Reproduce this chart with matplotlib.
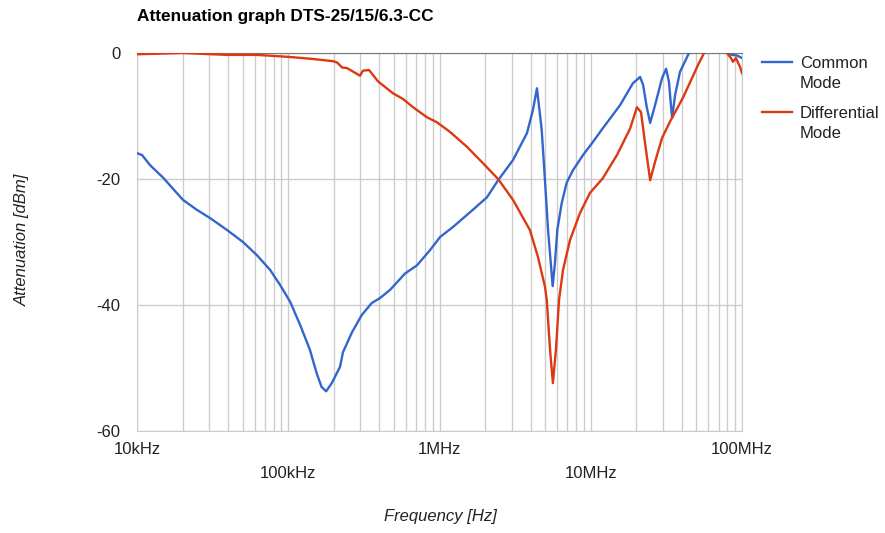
import matplotlib.pyplot as plt
from matplotlib.lines import Line2D
from matplotlib.ticker import LogLocator, NullFormatter
import numpy as np

# Common mode attenuation (Hz, dB)
freq_cm = [1.00e4, 1.08e4, 1.22e4, 1.49e4, 2.01e4, 2.49e4, 3.04e4, 3.94e4, 5.02e4, 6.21e4,
           7.57e4, 8.82e4, 1.03e5, 1.20e5, 1.39e5, 1.54e5, 1.66e5, 1.78e5, 1.94e5, 2.20e5,
           2.30e5, 2.63e5, 3.06e5, 3.56e5, 4.04e5, 4.71e5, 5.92e5, 7.10e5, 8.65e5, 1.01e6,
           1.23e6, 1.66e6, 2.06e6, 2.44e6, 3.06e6, 3.79e6, 4.15e6, 4.41e6, 4.74e6, 4.98e6,
           5.22e6, 5.44e6, 5.60e6, 5.80e6, 6.01e6, 6.43e6, 6.93e6, 7.63e6, 8.89e6, 1.035e7,
           1.18e7, 1.56e7, 1.90e7, 2.12e7, 2.22e7, 2.35e7, 2.47e7, 2.66e7, 2.96e7, 3.15e7,
           3.29e7, 3.39e7, 3.45e7, 3.61e7, 3.89e7, 4.46e7, 5.69e7, 7.16e7, 7.96e7, 8.59e7,
           9.27e7, 1.00e8]
att_cm = [-15.9, -16.2, -17.8, -19.8, -23.3, -24.9, -26.2, -28.1, -30.0, -32.1,
          -34.4, -36.8, -39.5, -43.2, -47.1, -50.8, -53.0, -53.7, -52.4, -49.8,
          -47.5, -44.4, -41.6, -39.7, -38.9, -37.6, -35.0, -33.7, -31.3, -29.2,
          -27.6, -24.9, -22.9, -20.2, -17.0, -12.7, -9.0, -5.6, -12.2, -20.2,
          -28.1, -33.3, -37.0, -33.3, -28.1, -23.8, -20.6, -18.6, -16.2, -14.1,
          -12.2, -8.3, -4.8, -3.8, -5.1, -8.7, -11.1, -8.3, -4.0, -2.5,
          -4.6, -8.3, -10.3, -6.7, -3.0, 0.0, 3.0, 2.0, 0.0, -0.3,
          -0.4, -0.8]

# Differential mode attenuation (Hz, dB)
freq_dm = [1.00e4, 2.01e4, 3.94e4, 6.21e4, 9.83e4, 1.46e5, 1.98e5, 2.10e5, 2.27e5, 2.45e5,
           2.98e5, 3.12e5, 3.42e5, 3.92e5, 4.93e5, 5.74e5, 6.68e5, 8.26e5, 9.62e5, 1.17e6,
           1.52e6, 1.94e6, 2.44e6, 3.06e6, 3.96e6, 4.48e6, 4.98e6, 5.12e6, 5.38e6, 5.62e6,
           5.89e6, 6.17e6, 6.56e6, 7.29e6, 8.49e6, 9.89e6, 1.20e7, 1.49e7, 1.82e7, 2.02e7,
           2.15e7, 2.28e7, 2.47e7, 2.66e7, 2.96e7, 3.34e7, 4.07e7, 5.12e7, 5.61e7, 6.64e7,
           7.96e7, 8.45e7, 8.71e7, 9.12e7, 9.70e7, 1.00e8]
att_dm = [-0.2, 0.0, -0.3, -0.3, -0.6, -0.95, -1.3, -1.5, -2.3, -2.4,
          -3.6, -2.8, -2.7, -4.5, -6.4, -7.3, -8.6, -10.2, -11.0, -12.5,
          -14.9, -17.5, -20.0, -23.3, -28.1, -32.4, -37.1, -39.2, -47.1, -52.4,
          -47.0, -39.2, -34.4, -29.7, -25.4, -22.2, -19.9, -16.2, -12.0, -8.6,
          -9.4, -14.1, -20.2, -17.3, -13.5, -10.9, -7.1, -1.9, 0.0, 2.0,
          0.0, -0.8, -1.4, -0.8, -2.2, -3.2]

x_ticks = [1e4, 1e5, 1e6, 1e7, 1e8]
x_labels = ['10kHz', '100kHz', '1MHz', '10MHz', '100MHz']
y_ticks = [0, -20, -40, -60]
series_names = ['Common\nMode', 'Differential\nMode']
blue = '#3366cc'
red = '#dc3912'

plt.rcParams['font.family'] = ['Liberation Sans', 'DejaVu Sans']
plt.rcParams['font.size'] = 12
plt.rcParams['axes.unicode_minus'] = False

W, H = 885, 533
fig = plt.figure(figsize=(W / 100, H / 100), dpi=100)
ax = fig.add_axes([137 / W, 1 - 431 / H, 605 / W, 378 / H])

ax.plot(freq_cm, att_cm, color=blue, lw=1.7, zorder=3, solid_joinstyle='round')
ax.plot(freq_dm, att_dm, color=red, lw=1.7, zorder=3, solid_joinstyle='round')

ax.set_xscale('log')
ax.set_xlim(1e4, 1e8)
ax.set_ylim(-60, 0)
ax.set_xticks(x_ticks, x_labels)
ax.xaxis.set_minor_locator(LogLocator(base=10, subs=np.arange(2, 10)))
ax.xaxis.set_minor_formatter(NullFormatter())
ax.set_yticks(y_ticks)
ax.grid(which='both', axis='both', color='#cccccc', lw=1)
ax.tick_params(which='both', length=0, labelcolor='#222222', labelsize=12)
ax.tick_params(axis='y', pad=12)
for i, t in enumerate(ax.xaxis.get_major_ticks()):
    t.set_pad(8 if i % 2 == 0 else 25)

for s in ['left', 'right', 'bottom']:
    ax.spines[s].set_color('#cccccc')
ax.spines['top'].set_color('#777777')

fig.text(137 / W, 1 - 17 / H, 'Attenuation graph DTS-25/15/6.3-CC', fontsize=12.4,
         fontweight='bold', ha='left', va='center')
fig.text(440 / W, 1 - 516 / H, 'Frequency [Hz]', style='italic', ha='center', va='center',
         color='#222222')
fig.text(22 / W, 1 - 240 / H, 'Attenuation [dBm]', style='italic', rotation=90,
         ha='center', va='center', color='#222222')

# legend
for k, (name, col) in enumerate(zip(series_names, [blue, red])):
    y0 = 1 - (62 + 50 * k) / H
    fig.add_artist(Line2D([762 / W, 792 / W], [y0, y0], color=col, lw=1.7,
                          transform=fig.transFigure))
    fig.text(800 / W, y0 + 6 / H, name, ha='left', va='top', linespacing=1.45,
             color='#222222')

fig.savefig('out.png', dpi=100)
